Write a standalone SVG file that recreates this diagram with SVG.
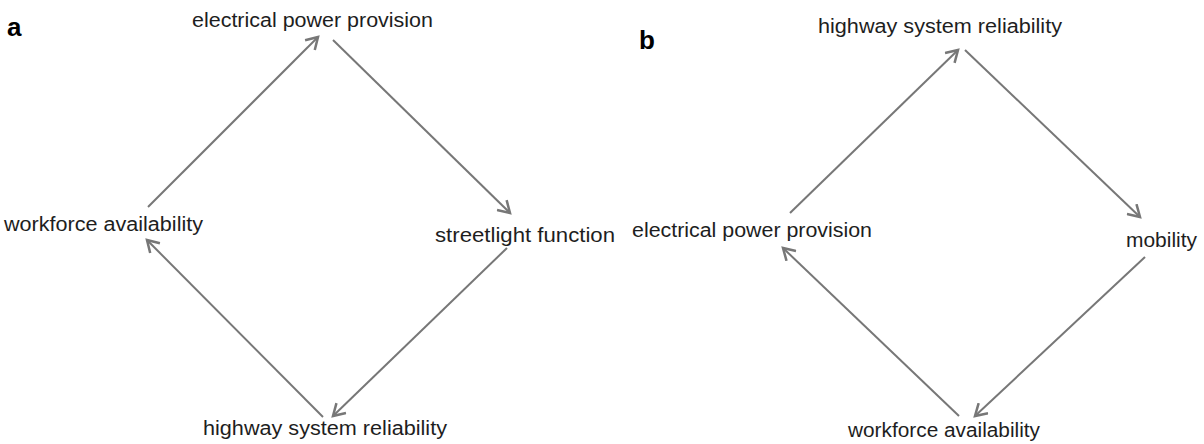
<svg xmlns="http://www.w3.org/2000/svg" width="1204" height="444" viewBox="0 0 1204 444">
<style>
.lbl{font-family:"Liberation Sans",Arial,sans-serif;font-size:19.5px;fill:#1e1e1e}
.pl{font-family:"Liberation Sans",Arial,sans-serif;font-size:26px;font-weight:bold;fill:#000}
.ed{stroke:#777;stroke-width:2;fill:none;marker-end:url(#ah)}
</style>
<defs>
<marker id="ah" markerUnits="userSpaceOnUse" markerWidth="16" markerHeight="16" viewBox="-12 -7 14 14" refX="0" refY="0" orient="auto">
<path d="M-10,-6 L0,0 L-10,6" fill="none" stroke="#777" stroke-width="2.2" stroke-linejoin="miter"/>
</marker>
</defs>
<rect width="1204" height="444" fill="#fff"/>
<text class="pl" x="7" y="36">a</text>
<text class="pl" x="639" y="49">b</text>
<g id="a-electrical"><text class="lbl" x="192" y="27" textLength="241" lengthAdjust="spacingAndGlyphs">electrical power provision</text></g>
<g id="a-workforce"><text class="lbl" x="4" y="231" textLength="199" lengthAdjust="spacingAndGlyphs">workforce availability</text></g>
<g id="a-streetlight"><text class="lbl" x="435" y="242" textLength="180" lengthAdjust="spacingAndGlyphs">streetlight function</text></g>
<g id="a-highway"><text class="lbl" x="203" y="435" textLength="244" lengthAdjust="spacingAndGlyphs">highway system reliability</text></g>
<g id="b-highway"><text class="lbl" x="818" y="33" textLength="244" lengthAdjust="spacingAndGlyphs">highway system reliability</text></g>
<g id="b-electrical"><text class="lbl" x="632" y="237" textLength="240" lengthAdjust="spacingAndGlyphs">electrical power provision</text></g>
<g id="b-mobility"><text class="lbl" x="1126" y="247" textLength="71" lengthAdjust="spacingAndGlyphs">mobility</text></g>
<g id="b-workforce"><text class="lbl" x="848" y="437" textLength="192" lengthAdjust="spacingAndGlyphs">workforce availability</text></g>
<g id="connectors">
<line class="ed" x1="148" y1="207" x2="318" y2="37"/>
<line class="ed" x1="333" y1="40" x2="510" y2="213"/>
<line class="ed" x1="507" y1="248" x2="333" y2="416"/>
<line class="ed" x1="323" y1="417" x2="147" y2="240"/>
<line class="ed" x1="790" y1="213" x2="958" y2="50"/>
<line class="ed" x1="965" y1="50" x2="1140" y2="217"/>
<line class="ed" x1="1145" y1="257" x2="975" y2="416"/>
<line class="ed" x1="959" y1="416" x2="783" y2="248"/>
</g>
</svg>
